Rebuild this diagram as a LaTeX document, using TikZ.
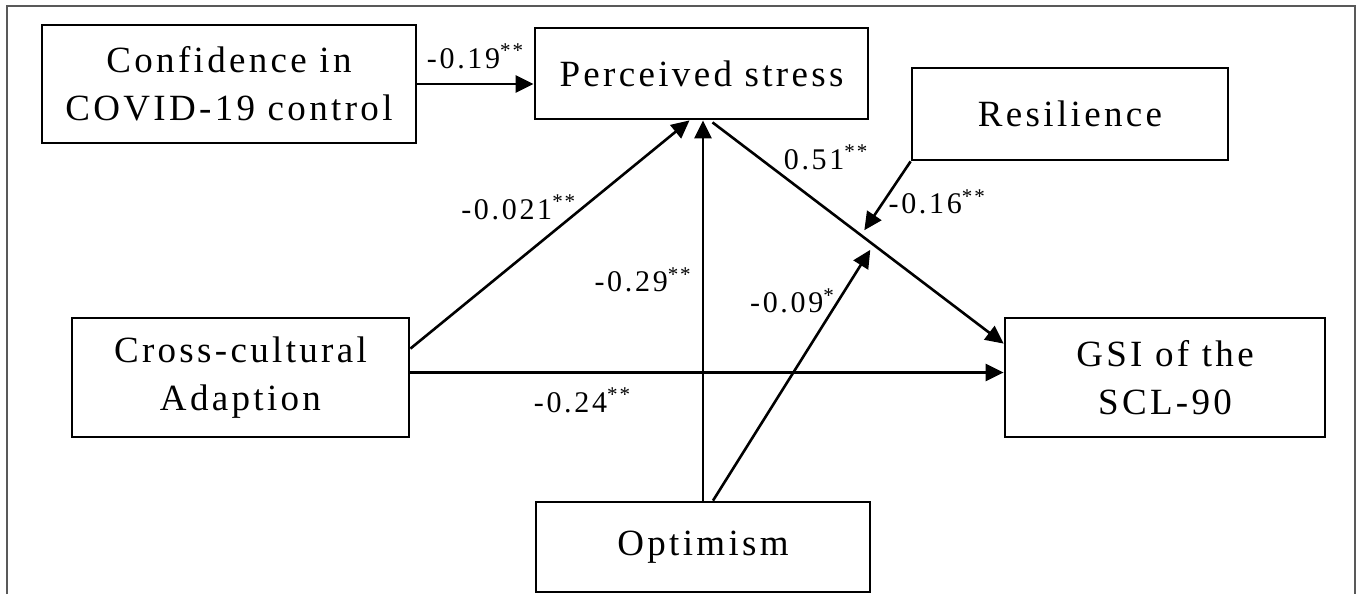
\documentclass[tikz,border=0pt]{standalone}
\usepackage{fontspec}
\setmainfont{Liberation Serif}[LetterSpace=9]
\usetikzlibrary{arrows.meta,calc,positioning}

\begin{document}
\begin{tikzpicture}[x=0.5pt, y=-0.5pt, >={Triangle[length=9pt,width=8.5pt]},
  varbox/.style={rectangle, draw, line width=1.4pt, align=center, inner sep=0pt, font=\fontsize{18.5}{24}\selectfont},
  link/.style={->, line width=1.3pt},
  coef/.style={inner sep=0pt, font=\fontsize{15}{18}\selectfont}]
\useasboundingbox (0,0) rectangle (1363,594);
% Frame
\draw[black!65, line width=0.6pt] (7,594) -- (7,6) -- (1355,6) -- (1355,594);
% Variables
\node[varbox, minimum width=187pt, minimum height=59pt] (conf) at (229,84) {Confidence in\\COVID-19 control};
\node[varbox, minimum width=166.5pt, minimum height=45.5pt] (stress) at (701.5,73.5) {Perceived stress};
\node[varbox, minimum width=158pt, minimum height=46pt] (resil) at (1070,114) {Resilience};
\node[varbox, minimum width=168.5pt, minimum height=59.5pt] (cross) at (240.5,377.5) {Cross-cultural\\Adaption};
\node[varbox, minimum width=160pt, minimum height=59.5pt] (gsi) at (1165,377.5) {GSI of the\\SCL-90};
\node[varbox, minimum width=167pt, minimum height=45pt] (optim) at (703,547) {Optimism};
% Paths into perceived stress
\draw[link] (conf.east) -- (conf.east -| stress.west) node[coef, midway, above=7pt] {-0.19\textsuperscript{**}};
\coordinate (caOut) at ($(cross.north east)+(0,32)$);
\draw[link] (caOut) -- ($(stress.south)+(-12,0)$) node[coef, pos=0.62, left=3pt] {-0.021\textsuperscript{**}};
\draw[link] (optim.north) -- (optim.north |- stress.south) node[coef, pos=0.58, left=5pt] {-0.29\textsuperscript{**}};
% Direct path
\coordinate (caMid) at ($(cross.east)+(0,-5)$);
\draw[link] (caMid) -- (caMid -| gsi.west) node[coef, pos=0.29, below=7pt] {-0.24\textsuperscript{**}};
% Perceived stress to GSI, with moderators
\coordinate (psIn) at ($(stress.south)+(11,2)$);
\coordinate (psOut) at ($(gsi.north west)+(0,27)$);
\draw[link] (psIn) -- (psOut) coordinate[pos=0.51] (modR) coordinate[pos=0.553] (modO)
  node[coef, pos=0.22, anchor=south west, xshift=3pt] {0.51\textsuperscript{**}};
\draw[link, shorten >=3pt] (resil.south west) -- (modR) node[coef, pos=0.55, right=2pt] {-0.16\textsuperscript{**}};
\draw[link, shorten >=3pt] ($(optim.north)+(10,0)$) -- (modO) node[coef, pos=0.78, left=1pt] {-0.09\textsuperscript{*}};
\end{tikzpicture}
\end{document}
